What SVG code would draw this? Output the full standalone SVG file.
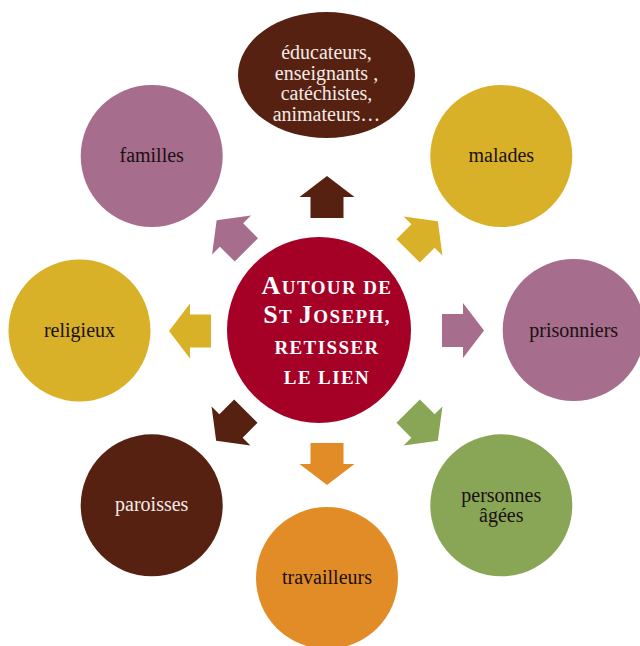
<svg xmlns="http://www.w3.org/2000/svg" xmlns:xlink="http://www.w3.org/1999/xlink" width="640" height="646" viewBox="0 0 640 646">
<style>
.lbl{font-family:"Liberation Serif","DejaVu Serif",serif;font-size:20px;text-anchor:middle}
.dark{fill:#1a1010}
.light{fill:#f3ebe6}
.ctr{font-family:"Liberation Serif","DejaVu Serif",serif;font-weight:bold;fill:#ffffff;text-anchor:middle;font-size:19px;letter-spacing:1.4px}
.big{font-size:26px}
.brown{fill:#572112}
.pink{fill:#a66d8c}
.yellow{fill:#d9b128}
.orange{fill:#e28c27}
.green{fill:#88a656}
.red{fill:#a50026}
</style>
<defs>
<path id="arr" d="M-21,-16.5 H0 V-27.5 L21,0 L0,27.5 V16.5 H-21 Z"/>
</defs>
<rect width="640" height="646" fill="#ffffff"/>
<g id="connectors">
<use xlink:href="#arr" class="brown" transform="translate(327,197) rotate(-90)"/>
<use xlink:href="#arr" class="yellow" transform="translate(423,236) rotate(-45)"/>
<use xlink:href="#arr" class="pink" transform="translate(463,330.5)"/>
<use xlink:href="#arr" class="green" transform="translate(423,426) rotate(45)"/>
<use xlink:href="#arr" class="orange" transform="translate(327,464) rotate(90)"/>
<use xlink:href="#arr" class="brown" transform="translate(231,426) rotate(135)"/>
<use xlink:href="#arr" class="yellow" transform="translate(190,331) rotate(180)"/>
<use xlink:href="#arr" class="pink" transform="translate(231.5,235) rotate(-135)"/>
</g>
<g id="center">
<ellipse cx="319" cy="330" rx="92" ry="93" class="red"/>
<text class="ctr" x="327" y="294"><tspan class="big">A</tspan>UTOUR DE</text>
<text class="ctr" x="327" y="323"><tspan class="big">S</tspan>T <tspan class="big">J</tspan>OSEPH,</text>
<text class="ctr" x="327" y="354">RETISSER</text>
<text class="ctr" x="327" y="384">LE LIEN</text>
</g>
<g id="educateurs">
<ellipse cx="326.5" cy="75" rx="88.5" ry="63" class="brown"/>
<text class="lbl light" x="326.5" y="59">éducateurs,</text>
<text class="lbl light" x="326.5" y="80">enseignants ,</text>
<text class="lbl light" x="326.5" y="100">catéchistes,</text>
<text class="lbl light" x="326.5" y="121">animateurs…</text>
</g>
<g id="familles">
<circle cx="151.7" cy="156" r="71" class="pink"/>
<text class="lbl dark" x="151.7" y="162">familles</text>
</g>
<g id="malades">
<circle cx="501.3" cy="156" r="71" class="yellow"/>
<text class="lbl dark" x="501.3" y="162">malades</text>
</g>
<g id="religieux">
<circle cx="79.5" cy="330.5" r="71" class="yellow"/>
<text class="lbl dark" x="79.5" y="337">religieux</text>
</g>
<g id="prisonniers">
<circle cx="573.7" cy="330" r="71" class="pink"/>
<text class="lbl dark" x="573.7" y="337">prisonniers</text>
</g>
<g id="paroisses">
<circle cx="151.7" cy="505.3" r="71" class="brown"/>
<text class="lbl light" x="151.7" y="511">paroisses</text>
</g>
<g id="personnes">
<circle cx="501.3" cy="505.3" r="71" class="green"/>
<text class="lbl dark" x="501.3" y="502">personnes</text>
<text class="lbl dark" x="501.3" y="522">âgées</text>
</g>
<g id="travailleurs">
<circle cx="327" cy="578" r="71" class="orange"/>
<text class="lbl dark" x="327" y="584">travailleurs</text>
</g>
</svg>
